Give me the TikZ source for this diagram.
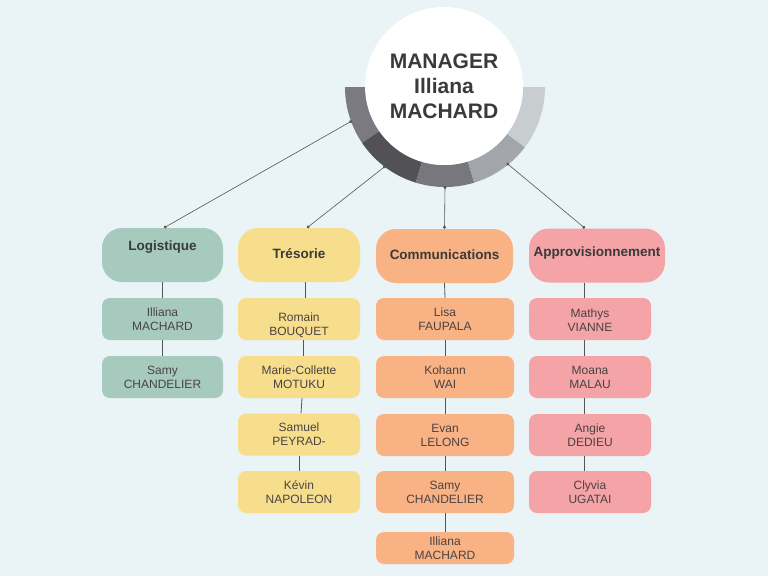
\documentclass[tikz,border=0pt]{standalone}
\usepackage{fontspec}
\setmainfont{Liberation Sans}
\usetikzlibrary{calc,arrows.meta}
\definecolor{bgc}{HTML}{EAF3F5}
\definecolor{greenc}{HTML}{A6CBBE}
\definecolor{yellowc}{HTML}{F7DE8D}
\definecolor{orangec}{HTML}{F9B283}
\definecolor{pinkc}{HTML}{F4A3A6}
\definecolor{ringA}{HTML}{7B7A80}
\definecolor{ringB}{HTML}{525156}
\definecolor{ringC}{HTML}{77777D}
\definecolor{ringD}{HTML}{A2A6AA}
\definecolor{ringE}{HTML}{C8CECF}
\definecolor{txtH}{HTML}{3A3A3A}
\definecolor{txtP}{HTML}{4B4242}
\definecolor{lineC}{HTML}{555555}
\newcommand{\twolines}[3]{\raisebox{#1}[\height][\depth]{\begin{tabular}{@{}c@{}}#2\\#3\end{tabular}}}
\tikzset{
  conn/.style={draw=lineC, line width=0.6pt, {Circle[length=3pt]}-{Circle[length=3pt]}},
  link/.style={draw=lineC, line width=0.8pt},
  head/.style={rounded corners=20pt, minimum height=54pt, inner sep=0pt,
    font=\bfseries\fontsize{13.5}{16}\selectfont, text=txtH, text height=10pt, text depth=3pt},
  pers/.style={rounded corners=8pt, minimum height=42pt, inner sep=0pt, align=center,
    font=\fontsize{12}{14}\selectfont, text=txtP}
}
\begin{document}
\begin{tikzpicture}[x=1pt,y=-1pt]
\fill[bgc] (0,0) rectangle (768,576);
\useasboundingbox (0,0) rectangle (768,576);
% ring
\coordinate (C) at (445,87);
\foreach \a/\b/\c in {180/146/ringA,146/107/ringB,107/73/ringC,73/37/ringD,37/0/ringE}{
  \fill[\c] ($(C)+(\a:100)$) arc[start angle=\a,end angle=\b,radius=100]
    -- ($(C)+(\b:78)$) arc[start angle=\b,end angle=\a,radius=78] -- cycle;
}
\node[circle, fill=white, minimum size=158pt, inner sep=0pt, align=center,
  font=\bfseries\fontsize{21}{25}\selectfont, text=txtH] (mgr) at (444,86) {MANAGER\\Illiana\\MACHARD};
\coordinate (r1) at ($(C)+(160:99)$);
\coordinate (r2) at ($(C)+(127:99)$);
\coordinate (r3) at ($(C)+(90:99)$);
\coordinate (r4) at ($(C)+(51:98)$);
% department heads
\node[head, fill=greenc, minimum width=121pt] (logi) at (162.5,255) {\raisebox{8pt}{Logistique}};
\node[head, fill=yellowc, minimum width=122pt] (tres) at (299,255) {Trésorie};
\node[head, fill=orangec, minimum width=137pt] (comm) at (444.5,256) {Communications};
\node[head, fill=pinkc, minimum width=136pt] (appr) at (597,255.5) {\raisebox{3pt}{Approvisionnement}};
% connectors from ring
\draw[conn] (r1) -- ([xshift=1.5pt]logi.north);
\draw[conn] (r2) -- ([xshift=8pt]tres.north);
\draw[conn] (r3) -- (comm.north);
\draw[conn] (r4) -- ([xshift=-12pt]appr.north);
% Logistique
\node[pers, fill=greenc, minimum width=121pt] (l1) at (162.5,319) {Illiana\\MACHARD};
\node[pers, fill=greenc, minimum width=121pt] (l2) at (162.5,377) {Samy\\CHANDELIER};
% Tresorie
\node[pers, fill=yellowc, minimum width=122pt] (t1) at (299,319) {\twolines{-7pt}{Romain}{BOUQUET}};
\node[pers, fill=yellowc, minimum width=122pt] (t2) at (299,377) {Marie-Collette\\MOTUKU};
\node[pers, fill=yellowc, minimum width=122pt] (t3) at (299,434.5) {Samuel\\PEYRAD-};
\node[pers, fill=yellowc, minimum width=122pt] (t4) at (299,492) {Kévin\\NAPOLEON};
% Communications
\node[pers, fill=orangec, minimum width=138pt] (c1) at (445,319) {Lisa\\FAUPALA};
\node[pers, fill=orangec, minimum width=138pt] (c2) at (445,377) {Kohann\\WAI};
\node[pers, fill=orangec, minimum width=138pt] (c3) at (445,435) {Evan\\LELONG};
\node[pers, fill=orangec, minimum width=138pt] (c4) at (445,492) {Samy\\CHANDELIER};
\node[pers, fill=orangec, minimum width=138pt, minimum height=32pt] (c5) at (445,548) {Illiana\\MACHARD};
% Approvisionnement
\node[pers, fill=pinkc, minimum width=122pt] (a1) at (590,319) {\twolines{-3pt}{Mathys}{VIANNE}};
\node[pers, fill=pinkc, minimum width=122pt] (a2) at (590,377) {Moana\\MALAU};
\node[pers, fill=pinkc, minimum width=122pt] (a3) at (590,435) {Angie\\DEDIEU};
\node[pers, fill=pinkc, minimum width=122pt] (a4) at (590,492) {Clyvia\\UGATAI};
% vertical links
\draw[link] (logi.south) -- (l1.north);
\draw[link] (l1.south) -- (l2.north);
\draw[link] ([xshift=6pt]tres.south) -- ([xshift=6pt]t1.north);
\draw[link] ([xshift=4pt]t1.south) -- ([xshift=4pt]t2.north);
\draw[link] ([xshift=3pt]t2.south) -- ([xshift=2pt]t3.north);
\draw[link] ([xshift=0pt]t3.south) -- ([xshift=0pt]t4.north);
\draw[link] (comm.south) -- (c1.north);
\draw[link] (c1.south) -- (c2.north);
\draw[link] (c2.south) -- (c3.north);
\draw[link] (c3.south) -- (c4.north);
\draw[link] (c4.south) -- (c5.north);
\draw[link] ([xshift=-13pt]appr.south) -- ([xshift=-6pt]a1.north);
\draw[link] ([xshift=-6pt]a1.south) -- ([xshift=-6pt]a2.north);
\draw[link] ([xshift=-6pt]a2.south) -- ([xshift=-6pt]a3.north);
\draw[link] ([xshift=-6pt]a3.south) -- ([xshift=-6pt]a4.north);
\end{tikzpicture}
\end{document}
